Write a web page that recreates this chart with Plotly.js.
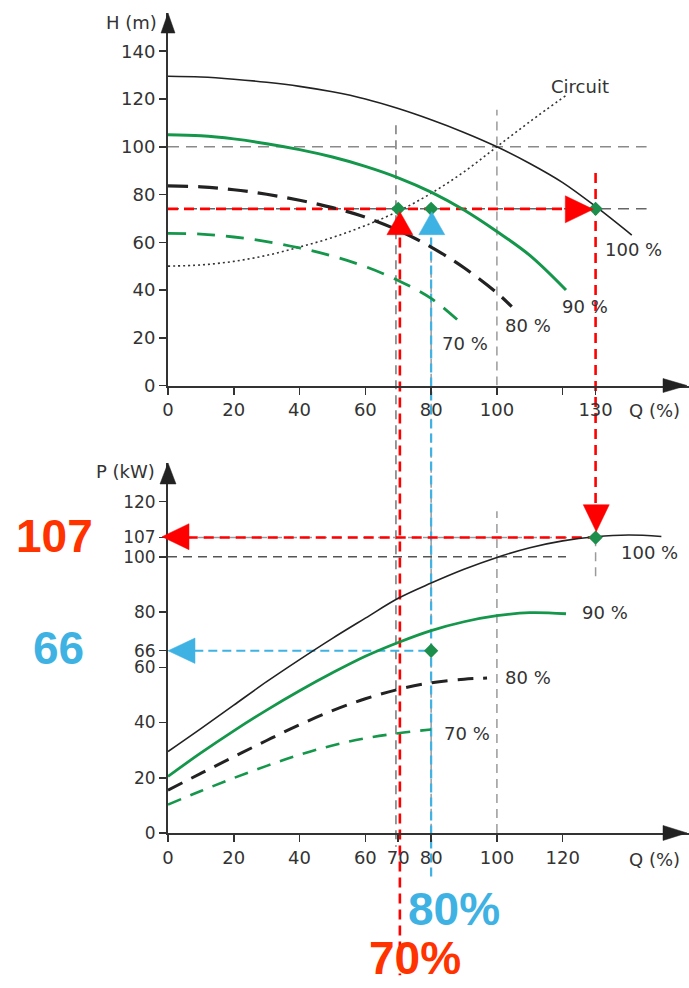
<!DOCTYPE html>
<html><head><meta charset="utf-8">
<script src="https://cdn.plot.ly/plotly-3.0.1.min.js"></script>
<style>html,body{margin:0;padding:0;background:#fff}#chart{width:689px;height:988px}</style>
</head><body><div id="chart"></div>
<script>
// ---------- data ----------
// Top panel: head H (m) vs flow Q (%)
const qH100 = [0,10,20,30,40,50,60,70,80,90,100,110,120,130,141];
const h100  = [129.5,129.2,128.3,127,125.3,123,120,116,111.3,106,100,93,85,75,63];
const qH90  = [0,10,20,30,40,50,60,70,80,90,100,110,121];
const h90   = [105,104.6,103.3,101.3,98.8,95.7,91.8,87,81,73.5,64.5,54.5,40];
const qH80  = [0,10,20,30,40,50,60,70,80,90,100,104.5];
const h80   = [83.6,83.2,82,80.1,77.6,74.5,70.5,65,58,49.3,38.8,33];
const qH70  = [0,10,20,30,40,50,60,70,80,90];
const h70   = [63.7,63.4,62.2,60.3,57.6,54.2,49.8,44,36.5,25];
const qCirc = [0,10,20,30,40,50,60,70,80,90,100,110,121];
const hCirc = [50,50.5,52,54.5,58,62,67,73,80.5,89.5,100,110.5,121.5];
// Bottom panel: power P (kW) vs flow Q (%)
const qP100 = [0,10,20,30,40,50,60,70,80,90,100,110,120,130,140,150];
const p100  = [29.5,37.8,46.3,54.8,62.8,70.5,77.8,85,90.5,95.5,99.8,103.3,105.8,107.3,107.9,107.4];
const qP90  = [0,10,20,30,40,50,60,70,80,90,100,110,121];
const p90   = [20.5,29,37,44.5,51.5,58,64,69,73.3,76.5,78.7,79.8,79.4];
const qP80  = [0,10,20,30,40,50,60,70,80,90,97];
const p80   = [15.5,21.6,27.6,33.5,39.2,44.3,48.6,52,54.4,55.7,56.1];
const qP70  = [0,10,20,30,40,50,60,70,80];
const p70   = [10.3,15.2,19.9,24.3,28.3,31.7,34.3,36.1,37.5];
// operating points
const qOpTop = [70,80,130];
const hOpTop = [74,74,74];
const qOpBot = [80,130];
const pOpBot = [66,107];
const hOp = 74, pRed = 107, pBlue = 66, qRed = 70, qBlue = 80, qFull = 130;
// ticks
const xTopTicks = [0,20,40,60,80,100,120,130];
const xTopText  = ['0','20','40','60','80','100','','130'];
const yTopTicks = [0,20,40,60,80,100,120,140];
const xBotTicks = [0,20,40,60,70,80,100,120];
const yBotTicks = [0,20,40,60,66,80,100,107,120];

// ---------- layout geometry ----------
const XMAX = 158.4, HMAX = 156, PMAX = 134;
const TOP_DOM = [0.6098, 0.9868], BOT_DOM = [0.1569, 0.5314];
const pyTop = h => TOP_DOM[0] + h / HMAX * (TOP_DOM[1] - TOP_DOM[0]);
const pyBot = p => BOT_DOM[0] + p / PMAX * (BOT_DOM[1] - BOT_DOM[0]);

const GREEN = '#14974a', DARK = '#222', RED = '#ff0000', BLUE = '#3fb2e4', GRAY = '#9a9a9a';
const txtFont = {family:'DejaVu Sans', size:18, color:'#333'};

function curve(x, y, color, width, dash, xa, ya) {
  return {x, y, xaxis:xa, yaxis:ya, type:'scatter', mode:'lines',
    line:{color, width, dash, shape:'spline', smoothing:1}, hoverinfo:'skip', showlegend:false};
}
const traces = [
  curve(qCirc, hCirc, '#333', 1.6, '2px,3px', 'x', 'y'),
  curve(qH100, h100, DARK, 1.6, 'solid', 'x', 'y'),
  curve(qH90, h90, GREEN, 3, 'solid', 'x', 'y'),
  curve(qH80, h80, DARK, 3.2, '20px,10px', 'x', 'y'),
  curve(qH70, h70, GREEN, 2.8, '18px,11px', 'x', 'y'),
  curve(qP100, p100, DARK, 1.6, 'solid', 'x2', 'y2'),
  curve(qP90, p90, GREEN, 2.8, 'solid', 'x2', 'y2'),
  curve(qP80, p80, DARK, 3, '16px,10px', 'x2', 'y2'),
  curve(qP70, p70, GREEN, 2.6, '14px,10px', 'x2', 'y2'),
  {x:qOpTop, y:hOpTop, xaxis:'x', yaxis:'y', type:'scatter', mode:'markers',
   marker:{symbol:'diamond', size:11, color:'#1c8f4c'}, cliponaxis:false, hoverinfo:'skip', showlegend:false},
  {x:qOpBot, y:pOpBot, xaxis:'x2', yaxis:'y2', type:'scatter', mode:'markers',
   marker:{symbol:'diamond', size:11, color:'#1c8f4c'}, cliponaxis:false, hoverinfo:'skip', showlegend:false}
];

// ---------- guide lines & arrowheads ----------
const shapes = [];
function gl(xref, yref, x0, y0, x1, y1, color, width, dash) {
  shapes.push({type:'line', xref, yref, x0, y0, x1, y1, line:{color, width, dash}, layer:'below'});
}
function head(xref, yref, xa, ya, path, color) {
  shapes.push({type:'path', xref, yref, xsizemode:'pixel', ysizemode:'pixel', xanchor:xa, yanchor:ya,
    path, fillcolor:color, line:{color, width:0.5}, layer:'above'});
}
// gray dashed grid guides
gl('x','y', 0, 100, 145.5, 100, '#8a8a8a', 1.5, '11px,7px');
gl('x','y', 0, hOp, 145.5, hOp, '#666', 1.5, '11px,7px');
gl('x','y', 100, 0, 100, 115.5, GRAY, 1.5, '9px,6px');
gl('x','paper', qRed - 0.7, pyTop(109), qRed - 0.7, pyBot(-5), '#777', 1.5, '9px,6px');
gl('x','paper', qBlue, pyTop(hOp), qBlue, pyBot(0), GRAY, 1.5, '9px,6px');
gl('x2','y2', 0, 100, 121, 100, '#555', 1.5, '9px,6px');
gl('x2','y2', 0, pRed, qFull, pRed, GRAY, 1.5, '9px,6px');
gl('x2','y2', 100, 0, 100, 116.5, GRAY, 1.5, '9px,6px');
gl('x2','y2', qFull, 93, qFull, pRed, GRAY, 1.5, '9px,6px');
// red / blue construction lines
gl('x','y', 0, hOp, 122, hOp, RED, 2.6, '10px,6px');
gl('x','paper', qRed + 0.5, pyTop(62), qRed + 0.5, 0.013, RED, 2.6, '10px,6px');
gl('x','paper', qFull, pyTop(89), qFull, pyBot(115), RED, 2.6, '10px,6px');
gl('x2','y2', 6, pRed, qFull, pRed, RED, 2.6, '10px,6px');
gl('x','paper', qBlue, pyTop(62), qBlue, pyBot(-16), BLUE, 2.2, '9px,5px');
gl('x2','y2', 8, pBlue, qBlue, pBlue, BLUE, 2.2, '9px,5px');
// arrowheads on construction lines
head('x','y', qRed + 0.5, 72.8, 'M0,0 L-13,-23 L13,-23 Z', RED);
head('x','y', qBlue + 0.2, 72.8, 'M0,0 L-13,-23 L13,-23 Z', BLUE);
head('x','y', 129.3, 73.8, 'M0,0 L-28,13.5 L-28,-13.5 Z', RED);
head('x2','y2', qFull + 0.2, 109.1, 'M0,0 L-13,27 L13,27 Z', RED);
head('paper','y2', 0, 107.3, 'M-6,0 L21,13 L21,-13 Z', RED);
head('paper','y2', 0, pBlue, 'M0,0 L27,12.7 L27,-12.7 Z', BLUE);
// axis arrowheads
head('paper','y', 0, HMAX, 'M0,0 L-7,-20 L7,-20 Z', '#222');
head('paper','y2', 0, PMAX, 'M0,0 L-8,-21 L8,-21 Z', '#222');
head('x','paper', XMAX, TOP_DOM[0], 'M-2,0 L-26,7 L-26,-7 Z', '#222');
head('x2','paper', XMAX, BOT_DOM[0], 'M-2,0 L-26,7.5 L-26,-7.5 Z', '#222');

// ---------- text ----------
function t(text, xref, yref, x, y, extra) {
  return Object.assign({text, xref, yref, x, y, showarrow:false, font:txtFont,
    xanchor:'center', yanchor:'middle'}, extra || {});
}
const big = (c) => ({family:'Liberation Sans', size:46, color:c});
const annotations = [
  t('H (m)', 'paper', 'y', 0, 152, {xanchor:'right', xshift:-9}),
  t('P (kW)', 'paper', 'y2', 0, 130.9, {xanchor:'right', xshift:-11}),
  t('Q (%)', 'x', 'y', 148, 0, {yshift:-25}),
  t('Q (%)', 'x2', 'y2', 148, 0, {yshift:-27}),
  t('Circuit', 'x', 'y', 125.2, 125.4),
  t('100 %', 'x', 'y', 141.6, 56.8),
  t('90 %', 'x', 'y', 126.7, 33),
  t('80 %', 'x', 'y', 109.4, 25.3),
  t('70 %', 'x', 'y', 90.3, 17.8),
  t('100 %', 'x2', 'y2', 146.5, 101.4),
  t('90 %', 'x2', 'y2', 132.8, 79.7),
  t('80 %', 'x2', 'y2', 109.4, 56.2),
  t('70 %', 'x2', 'y2', 90.8, 36.1),
  t('<b>' + pRed + '</b>', 'paper', 'y2', -0.2169, 107.4, {font:big('#ff3300')}),
  t('<b>' + pBlue + '</b>', 'paper', 'y2', -0.2111, 67, {font:big(BLUE)}),
  t('<b>' + qBlue + '%</b>', 'x2', 'paper', 86.9, 0.080, {font:big(BLUE)}),
  t('<b>' + qRed + '%</b>', 'x2', 'paper', 75.1, 0.030, {font:big('#ff3300')})
];

const axBase = {showgrid:false, zeroline:false, showline:true, linecolor:'#333', linewidth:2,
  ticks:'outside', ticklen:7, tickwidth:1.5, tickcolor:'#333', tickfont:txtFont, fixedrange:true};
const layout = {
  width:689, height:988, margin:{l:168, r:0, t:0, b:0},
  paper_bgcolor:'#fff', plot_bgcolor:'rgba(0,0,0,0)', showlegend:false,
  xaxis: Object.assign({}, axBase, {domain:[0,1], range:[0,XMAX], anchor:'y', tickmode:'array', tickvals:xTopTicks, ticktext:xTopText}),
  yaxis: Object.assign({}, axBase, {domain:TOP_DOM, range:[0,HMAX], anchor:'x', tickmode:'array', tickvals:yTopTicks}),
  xaxis2: Object.assign({}, axBase, {domain:[0,1], range:[0,XMAX], anchor:'y2', tickmode:'array', tickvals:xBotTicks}),
  yaxis2: Object.assign({}, axBase, {domain:BOT_DOM, range:[0,PMAX], anchor:'x2', tickmode:'array', tickvals:yBotTicks,
    tickfont:{family:'DejaVu Sans', size:17, color:'#333'}}),
  shapes, annotations
};
Plotly.newPlot('chart', traces, layout, {staticPlot:true, displayModeBar:false});
</script></body></html>
